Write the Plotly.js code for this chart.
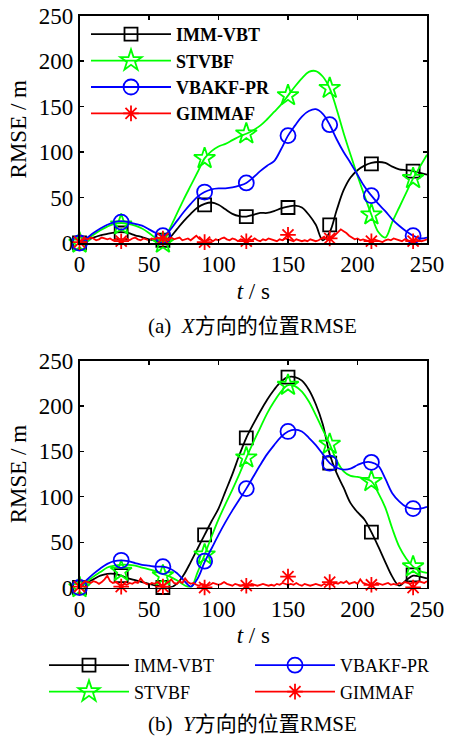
<!DOCTYPE html>
<html>
<head>
<meta charset="utf-8">
<script src="https://cdn.plot.ly/plotly-3.0.1.min.js"></script>
<style>html,body{margin:0;padding:0;background:#fff;}</style>
</head>
<body>
<div id="chart" style="width:449px;height:738px;"></div>
<script>
// Sample times (s): smooth curves every 5 s, GIMMAF every 2 s, markers every 30 s
const tSmooth = Array.from({length: 51}, (_, i) => i * 5);
const tDense = Array.from({length: 126}, (_, i) => i * 2);
const tMarks = [0, 30, 60, 90, 120, 150, 180, 210, 240];
const xTicks = [0, 50, 100, 150, 200, 250];
const yTicks = [0, 50, 100, 150, 200, 250];

// ---- (a) X-direction position RMSE (m) ----
const immX = [0, 3, 6, 8.5, 10, 11.5, 12, 11, 8.5, 6.5,
  4, 2.5, 2, 6, 15, 24, 32, 39, 43, 44.5,
  42, 37, 32, 29.5, 29, 31, 33, 33, 35, 38,
  40, 41, 39, 31, 20, 3, 12, 36, 58, 72,
  80, 85, 88, 89, 88, 84, 81, 80, 79, 77, 75];
const immXMarks = [0, 11, 3, 42, 29, 39, 20, 87, 79];

const stvX = [0, 4, 9, 14, 18, 21, 22, 21, 19, 16,
  11, 5, 1, 16, 32, 48, 63, 78, 93, 101,
  106, 109, 113, 117, 120, 124, 129, 136, 144, 152,
  162, 172, 181, 188, 189, 183, 170, 147, 121, 97,
  74, 52, 31, 12, 6, 23, 39, 55, 71, 84, 97];
const stvXMarks = [0, 20, 0, 93, 120, 162, 170, 31, 71];

const vbaX = [0, 5, 11, 16, 20, 23, 24, 23, 21, 19,
  15, 11, 8, 14, 24, 34, 43, 51, 56, 59,
  60, 60, 61, 63, 66, 72, 79, 85, 90, 103,
  118, 129, 139, 145, 147, 142, 130, 114, 100, 88,
  75, 62, 52, 43, 35, 26, 19, 13, 8, 5, 6];
const vbaXMarks = [0, 23, 8, 56, 66, 118, 130, 52, 8];

const gimX = [1, 3, 5, 4, 6, 5, 3, 4, 6, 5,
  4, 5, 3, 4, 5, 2, 4, 5, 3, 5,
  6, 4, 3, 5, 4, 3, 5, 4, 6, 5,
  4, 5, 3, 6, 4, 5, 6, 3, 4, 5,
  3, 6, 8, 5, 3, 1, 3, 4, 2, 4,
  3, 5, 6, 4, 3, 5, 4, 2, 4, 3,
  2, 4, 3, 5, 3, 2, 4, 3, 5, 4,
  3, 2, 4, 3, 5, 4, 3, 2, 4, 3,
  2, 3, 2, 4, 3, 2, 3, 5, 7, 4,
  3, 6, 9, 12, 15, 13, 11, 8, 6, 4,
  5, 3, 4, 3, 2, 3, 4, 3, 2, 1,
  3, 4, 3, 5, 4, 3, 2, 4, 3, 2,
  3, 4, 3, 2, 3, 4];
const gimXMarks = [1, 2, 5, 1, 2, 9, 5, 2, 2];

// ---- (b) Y-direction position RMSE (m) ----
const immY = [0, 5, 9, 13, 15, 15, 13, 10, 8, 6,
  4, 2, 1, 0, 4, 14, 28, 43, 58, 73,
  87, 106, 125, 146, 165, 180, 194, 207, 218, 227,
  232, 232, 228, 218, 202, 180, 147, 126, 110, 93,
  83, 75, 61, 45, 28, 12, 2, 8, 13, 12, 10];
const immYMarks = [0, 13, 0, 58, 165, 232, 137, 61, 14];

const stvY = [0, 6, 12, 17, 22, 24, 25, 25, 24, 22,
  20, 18, 15, 12, 8, 3, 0, 17, 36, 56,
  75, 92, 108, 125, 143, 160, 176, 192, 205, 216,
  223, 222, 216, 205, 190, 174, 158, 140, 128, 123,
  122, 120, 117, 104, 88, 65, 45, 32, 23, 18, 16];
const stvYMarks = [0, 18, 13, 36, 143, 223, 158, 117, 23];

const vbaY = [0, 8, 15, 21, 26, 29, 30, 29, 27, 25,
  24, 23, 23, 21, 16, 8, 1, 10, 28, 43,
  58, 72, 85, 97, 109, 122, 135, 147, 157, 166,
  172, 174, 172, 165, 157, 147, 137, 132, 130, 131,
  135, 138, 138, 134, 120, 104, 95, 89, 87, 87, 89];
const vbaYMarks = [0, 30, 23, 29, 109, 172, 137, 138, 87];

const gimY = [2, 5, 7, 6, 5, 7, 6, 4, 6, 9,
  13, 7, 5, 6, 4, 2, 4, 3, 5, 4,
  6, 5, 10, 6, 4, 3, 5, 4, 6, 3,
  2, 4, 6, 9, 5, 4, 7, 5, 10, 6,
  4, 5, 3, 2, 4, 3, 2, 3, 5, 4,
  3, 4, 6, 4, 3, 2, 4, 3, 2, 3,
  2, 3, 4, 3, 2, 3, 4, 3, 2, 3,
  2, 4, 3, 5, 4, 3, 4, 3, 5, 3,
  2, 4, 3, 2, 3, 4, 3, 2, 4, 3,
  4, 3, 5, 4, 6, 5, 7, 4, 5, 6,
  4, 9, 5, 4, 3, 4, 3, 5, 4, 3,
  4, 5, 3, 4, 3, 5, 4, 6, 5, 4,
  6, 5, 7, 6, 5, 7];
const gimYMarks = [1, 1, 1, 0, 2, 12, 6, 3, 0];

// ---- series styles ----
const styles = {
  'IMM-VBT': {color: '#000000', symbol: 'square-open', size: 13},
  'STVBF': {color: '#00ff00', symbol: 'star-open', size: 16},
  'VBAKF-PR': {color: '#0000ff', symbol: 'circle-open', size: 15},
  'GIMMAF': {color: '#ff0000', symbol: 'asterisk-open', size: 13}
};
const LW = 1.8;

const traces = [];
function addSeries(name, tCurve, curve, marks, xa, ya, legendId, rank, smooth) {
  const s = styles[name];
  traces.push({
    x: tCurve, y: curve, xaxis: xa, yaxis: ya, mode: 'lines',
    line: {color: s.color, width: LW, shape: smooth ? 'spline' : 'linear', smoothing: 1},
    showlegend: false, hoverinfo: 'skip', cliponaxis: true
  });
  traces.push({
    x: tMarks, y: marks, xaxis: xa, yaxis: ya, mode: 'markers',
    marker: {symbol: s.symbol, size: s.size, color: s.color, line: {color: s.color, width: LW}},
    showlegend: false, hoverinfo: 'skip', cliponaxis: false
  });
  // legend entry (line + marker)
  traces.push({
    x: [null], y: [null], xaxis: xa, yaxis: ya, mode: 'lines+markers', name: name,
    legend: legendId, legendrank: rank,
    line: {color: s.color, width: LW},
    marker: {symbol: s.symbol, size: s.size, color: s.color, line: {color: s.color, width: LW}},
    showlegend: true
  });
}

addSeries('IMM-VBT', tSmooth, immX, immXMarks, 'x', 'y', 'legend', 1, true);
addSeries('STVBF', tSmooth, stvX, stvXMarks, 'x', 'y', 'legend', 2, true);
addSeries('VBAKF-PR', tSmooth, vbaX, vbaXMarks, 'x', 'y', 'legend', 3, true);
addSeries('GIMMAF', tDense, gimX, gimXMarks, 'x', 'y', 'legend', 4, false);

addSeries('IMM-VBT', tSmooth, immY, immYMarks, 'x2', 'y2', 'legend2', 1, true);
addSeries('STVBF', tSmooth, stvY, stvYMarks, 'x2', 'y2', 'legend2', 2, true);
addSeries('VBAKF-PR', tSmooth, vbaY, vbaYMarks, 'x2', 'y2', 'legend3', 1, true);
addSeries('GIMMAF', tDense, gimY, gimYMarks, 'x2', 'y2', 'legend3', 2, false);

const W = 449, H = 738;
const FONT = 'Liberation Serif, Noto Sans CJK SC, serif';
const px = v => v / W;
const py = v => 1 - v / H;

function xAxis(anchor) {
  return {
    domain: [px(79.5), px(427)], anchor: anchor, range: [0, 250],
    tickvals: xTicks, ticktext: xTicks.map(String),
    ticks: 'inside', ticklen: 4, tickwidth: 1.2, tickcolor: '#000',
    showline: true, linecolor: '#000', linewidth: 1.6, mirror: 'ticks',
    showgrid: false, zeroline: false, fixedrange: true,
    tickfont: {family: FONT, size: 23, color: '#000'},
    title: {text: '<i>t</i> / s', font: {family: FONT, size: 23, color: '#000'}, standoff: 6}
  };
}
function yAxis(top, bottom, anchor) {
  return {
    domain: [py(bottom), py(top)], anchor: anchor, range: [0, 250],
    tickvals: yTicks, ticktext: yTicks.map(String),
    ticks: 'inside', ticklen: 4, tickwidth: 1.2, tickcolor: '#000',
    showline: true, linecolor: '#000', linewidth: 1.6, mirror: 'ticks',
    showgrid: false, zeroline: false, fixedrange: true,
    tickfont: {family: FONT, size: 23, color: '#000'},
    title: {text: 'RMSE / m', font: {family: FONT, size: 23, color: '#000'}, standoff: 6}
  };
}

const layout = {
  width: W, height: H,
  margin: {l: 0, r: 0, t: 0, b: 0},
  paper_bgcolor: '#ffffff', plot_bgcolor: '#ffffff',
  font: {family: FONT, color: '#000'},
  xaxis: xAxis('y'),
  yaxis: yAxis(15.5, 243, 'x'),
  xaxis2: xAxis('y2'),
  yaxis2: yAxis(360.7, 587.5, 'x2'),
  legend: {
    x: px(86), y: py(16), xanchor: 'left', yanchor: 'top',
    bgcolor: 'rgba(0,0,0,0)', borderwidth: 0, itemwidth: 80, tracegroupgap: 0,
    font: {family: FONT, size: 18, color: '#000', weight: 'bold'}
  },
  legend2: {
    x: px(44), y: py(647), xanchor: 'left', yanchor: 'top',
    bgcolor: 'rgba(0,0,0,0)', borderwidth: 0, itemwidth: 80, tracegroupgap: 0,
    font: {family: FONT, size: 18, color: '#000'}
  },
  legend3: {
    x: px(250), y: py(647), xanchor: 'left', yanchor: 'top',
    bgcolor: 'rgba(0,0,0,0)', borderwidth: 0, itemwidth: 80, tracegroupgap: 0,
    font: {family: FONT, size: 18, color: '#000'}
  },
  annotations: [
    {text: '(a)  <i>X</i>方向的位置RMSE', xref: 'paper', yref: 'paper',
     x: px(252), y: py(326), xanchor: 'center', yanchor: 'middle', showarrow: false,
     font: {family: FONT, size: 21, color: '#000'}},
    {text: '(b)  <i>Y</i>方向的位置RMSE', xref: 'paper', yref: 'paper',
     x: px(252), y: py(724), xanchor: 'center', yanchor: 'middle', showarrow: false,
     font: {family: FONT, size: 21, color: '#000'}}
  ],
  showlegend: true
};

Plotly.newPlot('chart', traces, layout, {staticPlot: true, displayModeBar: false});
</script>
</body>
</html>
